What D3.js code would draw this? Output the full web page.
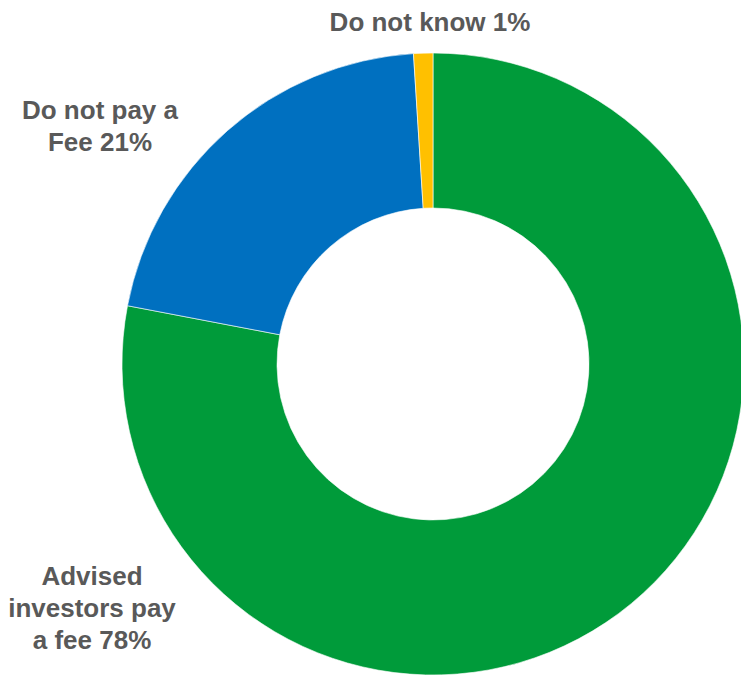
<!DOCTYPE html>
<html>
<head>
<meta charset="utf-8">
<script src="https://cdn.jsdelivr.net/npm/d3@7"></script>
<style>
  html, body { margin: 0; padding: 0; background: #fff; }
  svg { display: block; }
</style>
</head>
<body>
<svg id="chart" width="741" height="675"></svg>
<script>
// Fee-paying status of advised investors (share of respondents, %)
const categories = ["Advised investors pay a fee", "Do not pay a Fee", "Do not know"];
const values = [78, 21, 1];
const colors = ["#009B3A", "#0070C0", "#FFC000"];
// Label lines for each slice
const labelLines = [
  ["Advised", "investors pay", "a fee 78%"],
  ["Do not pay a", "Fee 21%"],
  ["Do not know 1%"]
];

const svg = d3.select("#chart");
const cx = 433, cy = 364, outerR = 311, innerR = 156;

const pie = d3.pie().sort(null).value(d => d.value);
const arc = d3.arc().innerRadius(innerR).outerRadius(outerR);

const data = categories.map((c, i) => ({ name: c, value: values[i], color: colors[i], lines: labelLines[i] }));

const g = svg.append("g").attr("transform", `translate(${cx},${cy})`);
g.selectAll("path")
  .data(pie(data))
  .join("path")
  .attr("d", arc)
  .attr("fill", d => d.data.color)
  .attr("stroke", "#ffffff")
  .attr("stroke-width", 0.6);

// Label anchors (centre x, first baseline y)
const labelPos = [
  { x: 92, y: 585 },
  { x: 100, y: 119 },
  { x: 430, y: 31 }
];
const lineGap = 32;

svg.selectAll("text.lbl")
  .data(data)
  .join("text")
  .attr("class", "lbl")
  .attr("text-anchor", "middle")
  .attr("font-family", "'Liberation Sans', Arial, sans-serif")
  .attr("font-weight", "bold")
  .attr("font-size", 26)
  .attr("fill", "#595959")
  .each(function (d, i) {
    const t = d3.select(this);
    d.lines.forEach((ln, k) => {
      t.append("tspan")
        .attr("x", labelPos[i].x)
        .attr("y", labelPos[i].y + k * lineGap)
        .text(ln);
    });
  });
</script>
</body>
</html>
